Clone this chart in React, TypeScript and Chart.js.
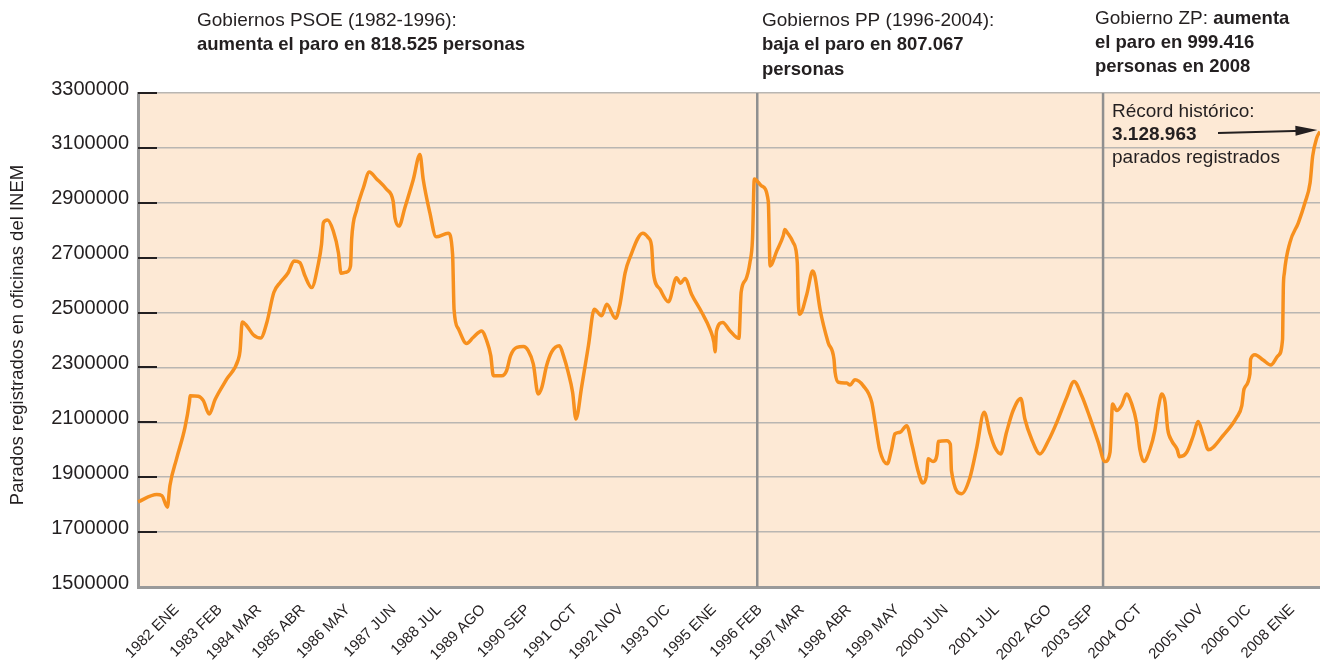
import React, { useEffect, useRef } from 'react';
import { Chart, registerables } from 'chart.js';

Chart.register(...registerables);

// Months counted from January 1982 (0 = ENE 1982)
const MONTHS = [
  0, 5.1, 6.5, 8.0, 8.7, 10.5, 12.8, 14.0, 14.2, 16.4, 17.8, 19.4, 21.0, 24.2, 27.3, 27.8, 28.4, 29.6,
  31.4, 33.4, 35.1, 37.0, 38.7, 40.9, 42.5, 44.1, 45.5, 47.3, 49.1, 50.0, 50.5, 51.6, 53.2, 54.6, 55.3,
  56.9, 57.9, 58.2, 59.6, 61.4, 63.0, 65.0, 67.7, 69.5, 70.0, 71.1, 72.7, 75.0, 76.8, 77.7, 79.5, 81.2,
  84.5, 85.7, 86.1, 87.3, 89.5, 91.3, 93.6, 95.0, 96.1, 96.8, 99.1, 100.4, 101.5, 103.2, 105.0, 106.3,
  107.7, 109.0, 110.0, 111.3, 112.7, 114.8, 115.9, 117.2, 118.4, 119.3, 120.9, 122.7, 124.3, 126.3,
  127.7, 130.1, 131.3, 132.7, 134.0, 137.5, 139.0, 139.9, 140.4, 142.2, 144.5, 146.7, 147.8, 149.0,
  150.8, 153.6, 155.8, 156.9, 157.2, 157.6, 159.3, 161.3, 163.7, 164.3, 165.6, 166.7, 167.4, 167.9,
  169.9, 171.7, 172.2, 174.0, 175.8, 176.2, 176.9, 178.5, 179.6, 179.9, 180.3, 182.2, 183.8, 184.4,
  185.8, 188.0, 189.6, 189.9, 190.8, 193.1, 194.0, 195.3, 197.6, 199.9, 200.8, 202.1, 204.1, 205.3,
  206.2, 207.6, 209.4, 210.8, 212.6, 213.8, 214.8, 215.3, 216.6, 217.7, 218.0, 220.3, 221.3, 221.6,
  224.4, 226.6, 228.5, 230.5, 232.1, 233.4, 235.0, 236.6, 238.4, 240.5, 241.6, 243.4, 245.7, 248.0,
  250.3, 253.0, 255.0, 257.1, 259.3, 261.6, 263.4, 264.8, 265.5, 266.6, 268.0, 269.3, 270.7, 272.0,
  272.9, 274.0, 275.7, 277.0, 277.9, 278.9, 279.8, 280.5, 281.6, 283.1, 283.7, 285.7, 287.5, 288.8,
  290.2, 291.6, 295.6, 299.3, 300.7, 301.3, 302.9, 303.1, 304.3, 306.5, 308.6, 310.6, 311.8, 311.9,
  312.0, 312.3, 313.8, 316.1, 317.9, 319.3, 320.0, 321.1, 322.0,
];

// Parados registrados en oficinas del INEM
const PARADOS = [
  1810000, 1837000, 1833000, 1791000, 1870000, 1967000, 2082000, 2173000, 2197000, 2195000, 2179000,
  2130000, 2183000, 2258000, 2328000, 2361000, 2466000, 2452000, 2419000, 2407000, 2464000, 2573000,
  2609000, 2645000, 2688000, 2682000, 2633000, 2591000, 2676000, 2749000, 2827000, 2837000, 2797000,
  2718000, 2643000, 2648000, 2670000, 2767000, 2876000, 2955000, 3012000, 2987000, 2949000, 2906000,
  2846000, 2815000, 2882000, 2985000, 3076000, 2985000, 2864000, 2776000, 2789000, 2712000, 2512000,
  2440000, 2387000, 2409000, 2433000, 2397000, 2343000, 2270000, 2270000, 2288000, 2343000, 2373000,
  2376000, 2361000, 2312000, 2203000, 2227000, 2306000, 2357000, 2379000, 2343000, 2282000, 2209000,
  2112000, 2233000, 2379000, 2512000, 2488000, 2530000, 2479000, 2530000, 2645000, 2700000, 2789000,
  2773000, 2743000, 2645000, 2585000, 2539000, 2627000, 2607000, 2624000, 2567000, 2500000, 2440000,
  2391000, 2357000, 2433000, 2464000, 2433000, 2406000, 2573000, 2621000, 2682000, 2767000, 2987000,
  2961000, 2906000, 2670000, 2724000, 2781000, 2803000, 2791000, 2755000, 2682000, 2536000, 2494000,
  2567000, 2651000, 2633000, 2512000, 2391000, 2330000, 2282000, 2246000, 2243000, 2236000, 2255000,
  2233000, 2173000, 2100000, 1997000, 1949000, 2003000, 2058000, 2064000, 2088000, 2021000, 1918000,
  1879000, 1906000, 1967000, 1957000, 1985000, 2030000, 2033000, 2020000, 1924000, 1840000, 1897000,
  2009000, 2137000, 2058000, 2009000, 1985000, 2064000, 2143000, 2187000, 2112000, 2040000, 1985000,
  2033000, 2100000, 2191000, 2249000, 2197000, 2118000, 2027000, 1957000, 1991000, 2167000, 2143000,
  2163000, 2203000, 2167000, 2100000, 2003000, 1957000, 2003000, 2070000, 2149000, 2203000, 2173000,
  2076000, 2033000, 2001000, 1975000, 1991000, 2052000, 2103000, 2052000, 2000000, 2052000, 2118000,
  2161000, 2221000, 2276000, 2330000, 2346000, 2327000, 2309000, 2343000, 2402000, 2488000, 2585000,
  2645000, 2755000, 2827000, 2900000, 2973000, 3070000, 3136000, 3160000,
];

const TICK_LABELS = [
  '1982 ENE', '1983 FEB', '1984 MAR', '1985 ABR', '1986 MAY', '1987 JUN', '1988 JUL', '1989 AGO',
  '1990 SEP', '1991 OCT', '1992 NOV', '1993 DIC', '1995 ENE', '1996 FEB', '1997 MAR', '1998 ABR',
  '1999 MAY', '2000 JUN', '2001 JUL', '2002 AGO', '2003 SEP', '2004 OCT', '2005 NOV', '2006 DIC',
  '2008 ENE',
];
const TICK_POS = [
  10.5, 22.3, 33.0, 44.9, 57.2, 69.7, 82.0, 94.0, 106.2, 119.0, 131.6, 144.4, 156.9, 169.4, 180.9,
  193.7, 206.8, 220.1, 234.0, 248.2, 259.9, 272.9, 289.6, 302.6, 314.4,
];

const Y_MIN = 1500000;
const Y_MAX = 3300000;
const Y_STEP = 200000;

// Changes of government (PSOE -> PP, PP -> ZP)
const GOV_CHANGES = [168.7, 262.9];

const FONT = '"Liberation Sans", Arial, sans-serif';
const TEXT = '#231f20';

const overlay = {
  id: 'overlay',
  beforeDraw(chart: any) {
    const { ctx, chartArea: a } = chart;
    ctx.save();
    ctx.fillStyle = '#fde9d5';
    ctx.fillRect(a.left, a.top, a.right - a.left, a.bottom - a.top);
    ctx.restore();
  },
  beforeDatasetsDraw(chart: any) {
    const { ctx, chartArea: a, scales } = chart;
    ctx.save();
    // inner tick marks on y axis
    ctx.strokeStyle = '#231f20';
    ctx.lineWidth = 2;
    for (let v = Y_MIN + Y_STEP; v <= Y_MAX; v += Y_STEP) {
      const y = Math.round(scales.y.getPixelForValue(v));
      ctx.beginPath();
      ctx.moveTo(a.left, y);
      ctx.lineTo(a.left + 19, y);
      ctx.stroke();
    }
    // government change lines
    ctx.strokeStyle = '#8f8f8f';
    ctx.lineWidth = 2.5;
    GOV_CHANGES.forEach((m) => {
      const x = scales.x.getPixelForValue(m);
      ctx.beginPath();
      ctx.moveTo(x, a.top);
      ctx.lineTo(x, a.bottom);
      ctx.stroke();
    });
    ctx.restore();
  },
  afterDraw(chart: any) {
    const { ctx, scales } = chart;
    ctx.save();
    ctx.fillStyle = TEXT;
    ctx.textBaseline = 'middle';
    ctx.textAlign = 'left';
    const reg = `19px ${FONT}`;
    const bold = `bold 18.5px ${FONT}`;
    // Y axis title
    ctx.save();
    ctx.translate(18, 335);
    ctx.rotate(-Math.PI / 2);
    ctx.textAlign = 'center';
    ctx.font = `18.5px ${FONT}`;
    ctx.fillText('Parados registrados en oficinas del INEM', 0, 0);
    ctx.restore();

    // PSOE
    ctx.font = reg;
    ctx.fillText('Gobiernos PSOE (1982-1996):', 197, 21);
    ctx.font = bold;
    ctx.fillText('aumenta el paro en 818.525 personas', 197, 45);
    // PP
    ctx.font = reg;
    ctx.fillText('Gobiernos PP (1996-2004):', 762, 21);
    ctx.font = bold;
    ctx.fillText('baja el paro en 807.067', 762, 45);
    ctx.fillText('personas', 762, 70);
    // ZP
    ctx.font = reg;
    ctx.fillText('Gobierno ZP: ', 1095, 19);
    const w = ctx.measureText('Gobierno ZP: ').width;
    ctx.font = bold;
    ctx.fillText('aumenta', 1095 + w, 19);
    ctx.fillText('el paro en 999.416', 1095, 43);
    ctx.fillText('personas en 2008', 1095, 67);

    // Record annotation
    ctx.font = reg;
    ctx.fillText('Récord histórico:', 1112, 112);
    ctx.font = `bold 19px ${FONT}`;
    ctx.fillText('3.128.963', 1112, 135);
    ctx.font = reg;
    ctx.fillText('parados registrados', 1112, 158);

    // arrow to the record
    const tipX = scales.x.getPixelForValue(321.3);
    const tipY = scales.y.getPixelForValue(3165000);
    const tailX = 1218;
    const tailY = 133;
    ctx.strokeStyle = '#231f20';
    ctx.lineWidth = 2;
    ctx.beginPath();
    ctx.moveTo(tailX, tailY);
    ctx.lineTo(tipX - 14, tipY + 0.6);
    ctx.stroke();
    const ang = Math.atan2(tipY - tailY, tipX - tailX);
    ctx.beginPath();
    ctx.moveTo(tipX, tipY);
    ctx.lineTo(tipX - 22 * Math.cos(ang) + 5 * Math.sin(ang), tipY - 22 * Math.sin(ang) - 5 * Math.cos(ang));
    ctx.lineTo(tipX - 22 * Math.cos(ang) - 5 * Math.sin(ang), tipY - 22 * Math.sin(ang) + 5 * Math.cos(ang));
    ctx.closePath();
    ctx.fillStyle = '#231f20';
    ctx.fill();
    ctx.restore();
  },
};

export default function App() {
  const ref = useRef<HTMLCanvasElement>(null);

  useEffect(() => {
    document.body.style.margin = '0';
    const data = MONTHS.map((m, i) => ({ x: m, y: PARADOS[i] }));
    const chart = new Chart(ref.current as HTMLCanvasElement, {
      type: 'line',
      data: {
        datasets: [
          {
            label: 'Parados registrados',
            data,
            borderColor: '#f7901e',
            borderWidth: 3.5,
            pointRadius: 0,
            fill: false,
            cubicInterpolationMode: 'monotone',
            clip: false,
          },
        ],
      },
      options: {
        responsive: false,
        animation: false,
        devicePixelRatio: 1,
        layout: { padding: { top: 93, right: 0, bottom: 0, left: 0 } },
        plugins: {
          legend: { display: false },
          tooltip: { enabled: false },
          title: { display: false },
        },
        scales: {
          x: {
            type: 'linear',
            min: 0,
            max: 322,
            afterBuildTicks: (axis: any) => {
              axis.ticks = TICK_POS.map((v) => ({ value: v }));
            },
            afterFit: (s: any) => {
              s.height = 77;
            },
            ticks: {
              autoSkip: false,
              minRotation: 45,
              maxRotation: 45,
              padding: 14,
              color: TEXT,
              font: { family: FONT, size: 15 },
              callback: (_v: any, i: number) => TICK_LABELS[i],
            },
            grid: { display: false, drawTicks: false },
            border: { color: '#9a9a9a', width: 3 },
          },
          y: {
            min: Y_MIN,
            max: Y_MAX,
            afterFit: (s: any) => {
              s.width = 138;
            },
            ticks: {
              stepSize: Y_STEP,
              padding: 9,
              labelOffset: -4,
              color: TEXT,
              font: { family: FONT, size: 20 },
              callback: (v: any) => String(v),
            },
            grid: { color: '#b9b6b2', lineWidth: 1.5, drawTicks: false },
            border: { color: '#9a9a9a', width: 3 },
          },
        },
      },
      plugins: [overlay],
    });
    return () => chart.destroy();
  }, []);

  return (
    <div style={{ position: 'fixed', left: 0, top: 0, width: 1320, height: 664, background: '#fff' }}>
      <canvas ref={ref} width={1320} height={664} style={{ display: 'block', width: 1320, height: 664 }} />
    </div>
  );
}
